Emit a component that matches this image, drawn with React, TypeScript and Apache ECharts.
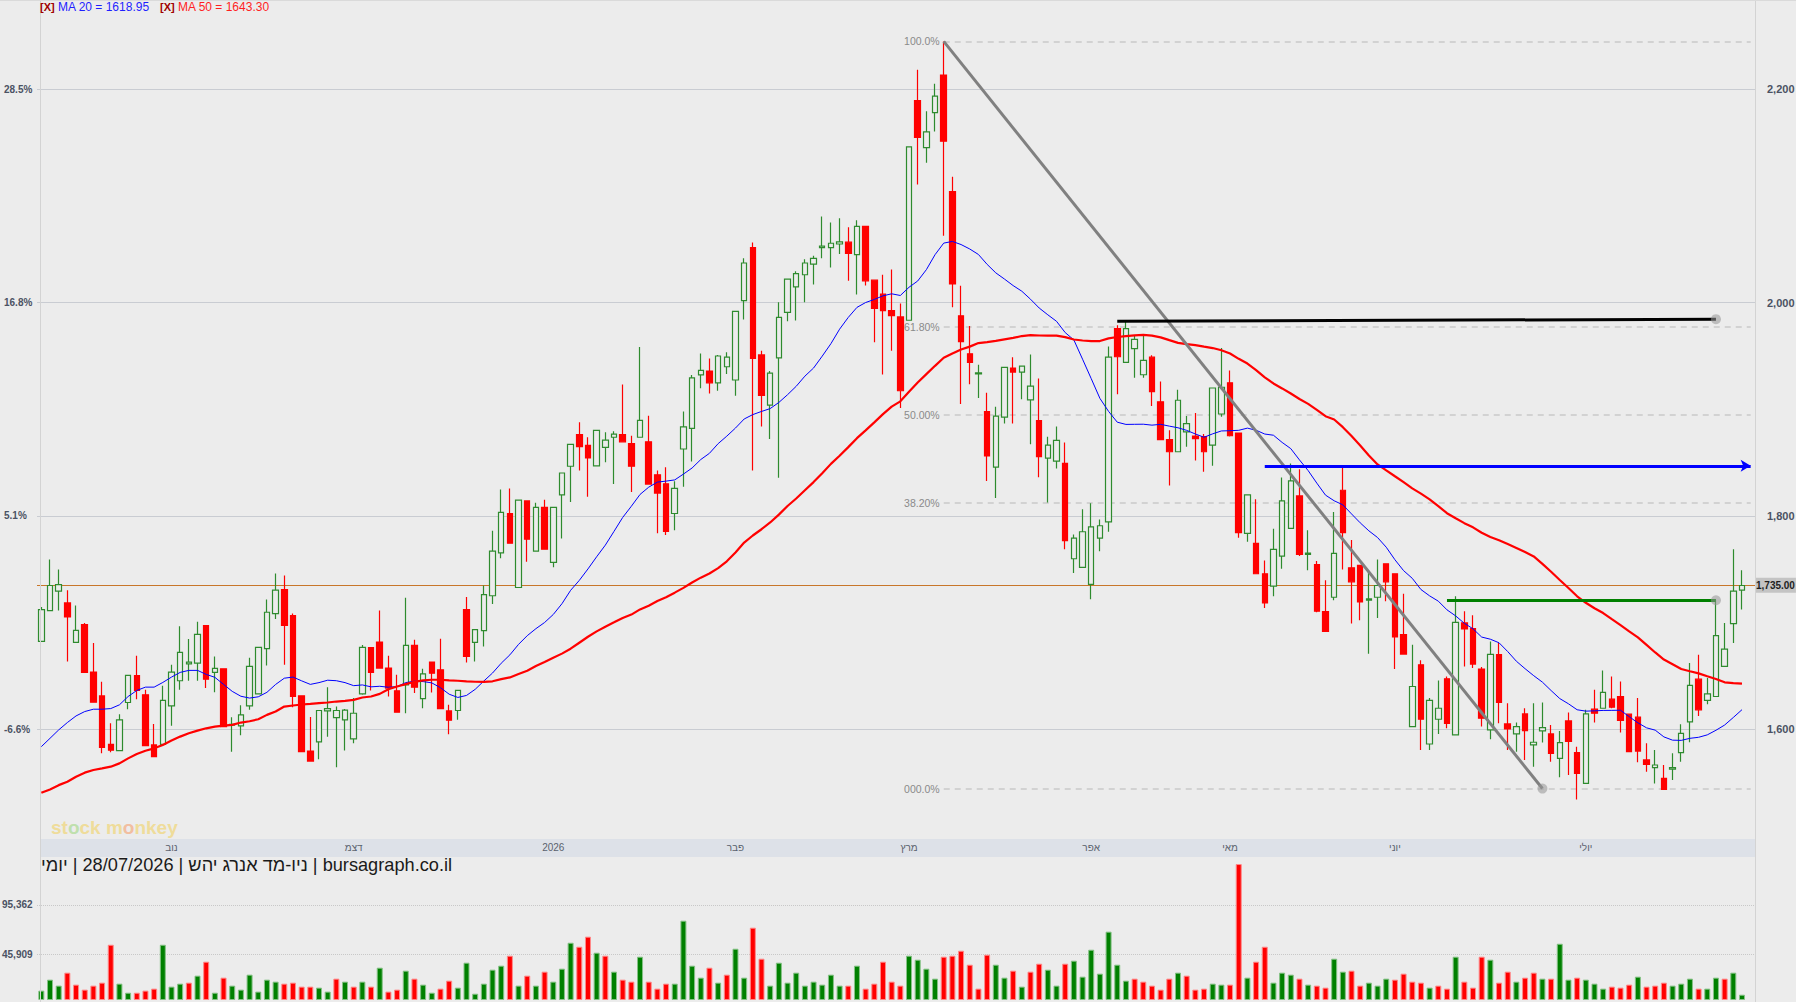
import React, { useEffect, useRef } from "react";
import * as echarts from "echarts";

// ---------- data ----------
const opens = [
  1682.4, 1711.3, 1729.5, 1718.5, 1681.5, 1698.1, 1653.6, 1631.3, 1585.9, 1580.0,
  1625.1, 1650.2, 1632.3, 1585.3, 1585.9, 1622.0, 1645.5, 1661.4, 1662.0, 1697.2,
  1653.3, 1656.7, 1603.8, 1603.1, 1622.0, 1633.2, 1675.6, 1708.5, 1731.0, 1706.6,
  1631.3, 1579.6, 1588.1, 1617.2, 1611.0, 1608.8, 1590.9, 1633.2, 1676.5, 1681.8,
  1657.4, 1636.0, 1641.7, 1678.7, 1628.8, 1663.0, 1655.8, 1617.2, 1617.6, 1712.2,
  1681.5, 1692.5, 1725.2, 1765.4, 1802.3, 1732.9, 1814.1, 1767.1, 1808.1, 1756.4,
  1819.8, 1846.6, 1876.2, 1866.1, 1847.0, 1864.4, 1873.8, 1876.2, 1867.8, 1873.8,
  1869.5, 1838.6, 1830.2, 1802.3, 1862.8, 1882.2, 1932.2, 1935.9, 1924.8, 1939.9,
  1927.5, 2002.0, 2051.7, 1951.0, 1904.0, 1948.3, 1990.9, 2014.8, 2026.2, 2036.2,
  2051.7, 2051.7, 2055.0, 2056.7, 2045.0, 2071.5, 2021.1, 2008.0, 1992.6, 1986.6,
  1983.5, 2189.4, 2145.4, 2178.2, 2213.4, 2104.2, 1987.7, 1952.1, 1933.1, 1897.9,
  1845.8, 1892.6, 1938.7, 1934.9, 1908.8, 1889.4, 1854.2, 1851.4, 1849.3, 1759.9,
  1751.8, 1735.9, 1779.2, 1794.4, 1975.7, 1944.0, 1957.0, 1932.4, 1948.9, 1907.0,
  1871.5, 1860.2, 1878.9, 1875.0, 1874.3, 1866.5, 1895.6, 1924.8, 1877.7, 1783.7,
  1774.3, 1745.8, 1734.2, 1762.4, 1788.4, 1818.8, 1764.0, 1754.5, 1710.3, 1723.8,
  1824.1, 1751.4, 1753.6, 1721.0, 1723.8, 1755.2, 1745.8, 1688.7, 1602.5, 1660.5,
  1586.2, 1609.4, 1647.3, 1594.7, 1699.7, 1694.4, 1656.4, 1599.4, 1669.9, 1605.0,
  1595.6, 1614.4, 1585.3, 1598.4, 1595.6, 1572.7, 1607.8, 1578.1, 1549.2, 1618.8,
  1619.7, 1628.2, 1630.7, 1614.1, 1611.3, 1571.2, 1564.0, 1553.9, 1562.7, 1578.1,
  1606.9, 1647.0, 1627.0, 1630.7, 1658.9, 1699.1, 1730.4,
];

const closes = [
  1712.2, 1734.8, 1735.7, 1705.3, 1692.8, 1653.3, 1625.4, 1583.1, 1580.3, 1608.8,
  1650.5, 1636.4, 1584.6, 1574.3, 1627.0, 1653.6, 1672.1, 1663.0, 1689.0, 1647.0,
  1657.0, 1602.5, 1604.7, 1613.5, 1659.0, 1676.8, 1709.7, 1730.4, 1697.5, 1630.7,
  1579.0, 1570.2, 1617.6, 1619.4, 1617.6, 1618.0, 1615.0, 1676.8, 1653.3, 1657.4,
  1638.6, 1616.0, 1678.7, 1639.5, 1652.0, 1652.5, 1619.4, 1608.5, 1636.4, 1668.3,
  1693.4, 1726.3, 1767.1, 1803.4, 1774.5, 1814.8, 1778.2, 1808.1, 1768.8, 1808.1,
  1840.3, 1867.1, 1865.1, 1854.4, 1880.2, 1871.1, 1876.8, 1869.5, 1846.6, 1889.6,
  1829.9, 1821.5, 1785.6, 1825.8, 1883.6, 1929.5, 1936.6, 1924.8, 1950.0, 1949.0,
  1991.9, 2037.2, 1947.7, 1913.1, 1933.9, 1986.2, 2022.1, 2027.2, 2037.2, 2041.6,
  2053.0, 2055.7, 2057.0, 2046.3, 2071.5, 2020.5, 1994.6, 1992.6, 1987.9, 1917.4,
  2146.1, 2154.9, 2160.2, 2193.7, 2151.4, 2017.6, 1963.4, 1944.0, 1934.2, 1856.3,
  1893.7, 1939.4, 1934.9, 1940.5, 1921.8, 1855.6, 1866.5, 1870.8, 1776.8, 1779.2,
  1785.2, 1789.8, 1790.8, 1948.9, 1949.3, 1975.7, 1965.5, 1945.8, 1916.5, 1871.5,
  1860.2, 1908.5, 1886.6, 1872.5, 1860.2, 1920.0, 1920.7, 1875.2, 1784.3, 1819.7,
  1745.8, 1718.5, 1768.7, 1814.1, 1832.9, 1764.0, 1765.2, 1710.7, 1691.8, 1764.9,
  1784.3, 1738.2, 1719.4, 1722.3, 1734.8, 1738.2, 1686.5, 1670.5, 1640.1, 1609.4,
  1627.0, 1619.7, 1605.6, 1700.3, 1694.0, 1661.1, 1610.3, 1670.2, 1625.1, 1600.3,
  1602.5, 1598.7, 1587.8, 1601.6, 1577.4, 1587.5, 1588.5, 1558.6, 1614.5, 1615.0,
  1634.5, 1620.7, 1608.2, 1579.0, 1579.5, 1567.1, 1566.5, 1543.6, 1564.0, 1596.2,
  1641.1, 1618.2, 1633.2, 1687.8, 1675.2, 1729.5, 1734.8,
];

const lows = [
  1682.4, 1711.3, 1711.3, 1663.6, 1681.5, 1653.3, 1625.4, 1577.4, 1578.4, 1580.0,
  1618.8, 1628.2, 1584.6, 1574.3, 1585.9, 1603.4, 1637.0, 1645.5, 1645.5, 1638.6,
  1634.8, 1602.5, 1579.0, 1594.4, 1618.2, 1633.2, 1659.9, 1703.4, 1660.5, 1620.7,
  1579.0, 1569.6, 1571.8, 1593.0, 1564.3, 1580.0, 1586.8, 1632.3, 1636.4, 1657.4,
  1630.7, 1616.0, 1615.0, 1633.9, 1619.7, 1634.5, 1619.4, 1595.3, 1608.8, 1662.7,
  1663.6, 1677.7, 1717.4, 1760.4, 1774.5, 1732.9, 1757.0, 1767.1, 1768.8, 1752.0,
  1778.9, 1813.1, 1842.6, 1818.1, 1847.0, 1850.3, 1829.9, 1869.5, 1822.5, 1873.8,
  1829.9, 1783.9, 1782.2, 1786.6, 1827.5, 1851.0, 1919.8, 1914.8, 1917.4, 1933.2,
  1912.8, 1984.2, 1842.6, 1883.9, 1872.1, 1835.9, 1982.6, 1983.2, 2000.3, 2017.1,
  2041.6, 2032.9, 2045.6, 2020.5, 2007.7, 2016.1, 1962.8, 1932.6, 1955.0, 1901.3,
  1983.5, 2110.9, 2131.3, 2160.6, 2062.7, 1995.8, 1904.9, 1923.6, 1910.6, 1832.7,
  1816.9, 1886.6, 1886.6, 1909.5, 1867.3, 1836.3, 1812.7, 1844.4, 1768.7, 1746.5,
  1751.8, 1721.8, 1766.9, 1785.2, 1914.1, 1944.0, 1929.6, 1929.6, 1903.2, 1871.5,
  1828.5, 1860.2, 1864.8, 1852.1, 1841.5, 1847.2, 1893.0, 1874.6, 1779.6, 1775.9,
  1745.8, 1713.8, 1724.8, 1750.5, 1788.4, 1762.4, 1749.2, 1709.7, 1691.8, 1721.0,
  1749.8, 1699.1, 1702.2, 1670.8, 1704.4, 1720.1, 1656.4, 1670.5, 1602.5, 1580.6,
  1580.6, 1595.6, 1600.9, 1594.7, 1658.9, 1657.4, 1602.5, 1590.6, 1605.6, 1580.6,
  1579.0, 1571.2, 1564.9, 1587.5, 1569.6, 1554.9, 1557.1, 1534.2, 1549.2, 1606.3,
  1619.7, 1619.7, 1596.9, 1579.0, 1569.0, 1560.2, 1549.2, 1543.6, 1552.4, 1569.6,
  1587.8, 1612.5, 1623.5, 1630.7, 1658.9, 1680.9, 1712.2,
];

const highs = [
  1714.7, 1759.2, 1749.8, 1730.4, 1716.0, 1699.7, 1680.9, 1644.5, 1605.6, 1614.1,
  1650.5, 1669.0, 1637.0, 1605.0, 1640.8, 1660.5, 1696.5, 1684.6, 1700.9, 1697.2,
  1668.3, 1656.7, 1611.3, 1622.6, 1667.1, 1676.8, 1721.6, 1746.1, 1744.2, 1708.5,
  1631.3, 1611.6, 1617.6, 1639.5, 1621.3, 1619.0, 1629.2, 1679.0, 1676.5, 1711.3,
  1669.0, 1651.0, 1723.2, 1684.0, 1656.7, 1663.0, 1684.9, 1622.9, 1636.4, 1724.1,
  1693.4, 1734.8, 1786.2, 1824.8, 1825.8, 1814.8, 1814.1, 1812.4, 1815.1, 1808.1,
  1840.3, 1867.1, 1887.9, 1873.8, 1880.2, 1878.5, 1879.5, 1923.2, 1875.2, 1958.4,
  1894.0, 1842.6, 1845.6, 1832.6, 1898.0, 1932.2, 1952.3, 1947.7, 1951.0, 1953.4,
  1991.9, 2041.6, 2056.4, 1955.0, 1935.9, 2000.3, 2022.1, 2029.5, 2040.6, 2044.0,
  2080.9, 2075.2, 2079.2, 2070.8, 2077.2, 2071.5, 2021.1, 2026.2, 2031.2, 1999.3,
  2146.1, 2218.3, 2179.6, 2205.3, 2245.0, 2118.0, 2015.8, 1978.2, 1941.9, 1915.5,
  1902.5, 1939.4, 1948.9, 1940.5, 1951.4, 1928.9, 1874.3, 1883.8, 1869.0, 1782.7,
  1806.3, 1812.0, 1796.8, 1958.8, 1978.9, 1982.4, 1969.4, 1969.4, 1950.7, 1926.1,
  1880.3, 1918.3, 1893.7, 1896.5, 1876.8, 1920.0, 1957.4, 1936.4, 1877.7, 1819.7,
  1815.7, 1758.3, 1788.1, 1836.0, 1849.2, 1843.9, 1786.5, 1757.7, 1739.8, 1803.8,
  1847.0, 1777.4, 1753.6, 1749.2, 1759.2, 1755.2, 1745.8, 1727.0, 1679.3, 1664.6,
  1629.2, 1645.8, 1649.5, 1724.8, 1710.7, 1706.9, 1658.3, 1682.4, 1680.9, 1624.5,
  1606.3, 1619.7, 1624.5, 1625.1, 1604.1, 1598.4, 1615.7, 1583.7, 1618.2, 1637.0,
  1655.2, 1649.5, 1644.8, 1614.1, 1629.2, 1586.8, 1580.6, 1566.5, 1577.4, 1604.7,
  1662.1, 1669.9, 1648.0, 1721.0, 1699.7, 1768.7, 1749.2,
];

const volumes = [
  9400, 20400, 14400, 27400, 15400, 10400, 14400, 17400, 55400, 16400,
  7300, 7300, 9400, 11400, 55400, 13400, 16400, 17400, 24400, 38400,
  7300, 22400, 14400, 10400, 25400, 8400, 20400, 18400, 16400, 17400,
  13400, 13400, 12400, 8400, 21400, 18400, 13400, 18400, 13400, 32400,
  8400, 10400, 29400, 21400, 15400, 7300, 11400, 19400, 12400, 37400,
  6300, 16400, 30400, 34400, 44400, 14400, 24400, 14400, 28400, 18400,
  31400, 57400, 53400, 63500, 47400, 44400, 28400, 20400, 18400, 43400,
  18400, 11400, 16400, 16400, 79500, 34400, 22400, 32400, 17400, 25400,
  51400, 22400, 72500, 41400, 14400, 37400, 17400, 27400, 14400, 18400,
  15400, 25400, 14400, 14400, 34400, 11400, 16400, 38400, 18400, 14400,
  44400, 40400, 31400, 21400, 43400, 44400, 49400, 35400, 11400, 45400,
  35400, 22400, 29400, 13400, 28400, 36400, 30400, 14400, 36400, 39400,
  23400, 50400, 26400, 68500, 35400, 19400, 21400, 18400, 14400, 10400,
  21400, 27400, 24400, 10400, 11400, 16400, 15400, 15400, 136300, 22400,
  38400, 53400, 17400, 27400, 25400, 21400, 15400, 14400, 12400, 41400,
  28400, 29400, 14400, 17400, 14400, 21400, 20400, 26400, 18400, 17400,
  12400, 14400, 11400, 43400, 18400, 12400, 43400, 40400, 17400, 28400,
  18400, 22400, 27400, 21400, 21400, 56400, 20400, 22400, 20400, 16400,
  11400, 13400, 12400, 15400, 23400, 13400, 14400, 17400, 14400, 16400,
  21400, 11400, 11400, 22400, 21400, 27400, 5300,
];

// moving-average values before enough visible history exists
const ma20Head = [
  1583.7, 1591.5, 1599.4, 1606.3, 1612.5, 1616.6, 1618.8, 1618.8, 1619.4, 1622.9,
  1630.7, 1636.4, 1639.5, 1639.5, 1643.9, 1648.9, 1653.3, 1655.2, 1655.2,
];
const ma50Head = [
  1540.4, 1543.6, 1547.6, 1550.8, 1555.5, 1559.3, 1561.8, 1563.3, 1564.9, 1568.0,
  1572.7, 1576.8, 1579.9, 1582.1, 1585.3, 1589.4, 1593.1, 1596.2, 1598.7, 1600.9,
  1602.5, 1603.4, 1604.1, 1606.3, 1607.5, 1609.4, 1613.5, 1616.6, 1621.3, 1622.3,
  1623.2, 1623.8, 1624.5, 1625.1, 1626.0, 1626.6, 1627.6, 1629.8, 1630.7, 1633.2,
  1637.6, 1640.1, 1642.3, 1644.5, 1645.8, 1646.4, 1646.4, 1645.8, 1645.5,
];

// axis ticks
const monthTickIndex = [15, 36, 59, 80, 100, 121, 137, 156, 178];
const monthLabels = ["נוב", "דצמ", "2026", "פבר", "מרץ", "אפר", "מאי", "יוני", "יולי"];
const priceTicks = [1600, 1800, 2000, 2200];
const priceTickLabels = ["1,600", "1,800", "2,000", "2,200"];
const pctTickLabels = ["-6.6%", "5.1%", "16.8%", "28.5%"];
const volumeTicks = [95362, 45909];
const volumeTickLabels = ["95,362", "45,909"];

// annotations
const lastPrice = 1735;
const lastPriceLabel = "1,735.00";
const fibHigh = 2245.0;
const fibLow = 1544.4;
const fibRatios = [1, 0.618, 0.5, 0.382, 0];
const fibLabels = ["100.0%", "61.80%", "50.00%", "38.20%", "000.0%"];
const fibStart = 104;
const trendFrom = [104, 2245.0];
const trendTo = [173, 1544.4];
const blackFrom = [124, 1982.5];
const blackTo = [193, 1984.5];
const greenFrom = [162, 1721.0];
const greenTo = [193, 1721.0];
const blueFrom = [141, 1847.0];
const blueTo = [197, 1847.0];

const legendMA20 = "MA 20 = 1618.95";
const legendMA50 = "MA 50 = 1643.30";
const titleText = "bursagraph.co.il | ניו-מד אנרג יהש | 28/07/2026 | יומי";

// ---------- helpers ----------
const FONT = '"Liberation Sans", Arial, sans-serif';
const BG = "#ececec";

function movingAverage(head: number[], period: number) {
  return closes.map((_, i) => {
    if (i < period - 1) return head[i];
    let s = 0;
    for (let k = i - period + 1; k <= i; k++) s += closes[k];
    return +(s / period).toFixed(2);
  });
}

function buildOption() {
  const categories = Array.from({ length: closes.length + 1 }, (_, i) => String(i));
  const monthMap: Record<number, string> = {};
  monthTickIndex.forEach((idx, k) => (monthMap[idx] = monthLabels[k]));

  const candleData = opens.map((o, i) => [o, closes[i], lows[i], highs[i]]);
  const ma20 = movingAverage(ma20Head, 20);
  const ma50 = movingAverage(ma50Head, 50);

  const volData = volumes.map((v, i) => {
    const up = i === 0 || closes[i] >= closes[i - 1];
    return {
      value: v,
      itemStyle: {
        color: up ? "#008000" : "#ff0000",
        borderColor: up ? "#86c286" : "#ff8a8a",
        borderWidth: 1,
      },
    };
  });

  const axisLabelColor = "#4b5263";

  const priceGrid = priceTicks.map((p, k) => ({
    yAxis: p,
    lineStyle: { color: "#c9ccd2", width: 1.2, type: "solid" },
    label: {
      show: true,
      position: "end",
      distance: 12,
      formatter: priceTickLabels[k],
      color: axisLabelColor,
      fontSize: 11,
      fontWeight: "bold",
      fontFamily: FONT,
    },
  }));

  const fibLines = fibRatios.map((r, k) => {
    const level = fibLow + r * (fibHigh - fibLow);
    return [
      {
        coord: [fibStart, level],
        lineStyle: { color: "#c9c9c9", width: 1.5, type: [6, 5] },
        label: {
          show: true,
          position: "start",
          distance: 4,
          formatter: fibLabels[k],
          color: "#8a8a8a",
          fontSize: 10.5,
          fontFamily: FONT,
        },
      },
      { coord: [closes.length, level] },
    ];
  });

  const lastLine = {
    yAxis: lastPrice,
    lineStyle: { color: "#c8762a", width: 1, type: "solid" },
    label: {
      show: true,
      position: "end",
      distance: 0,
      formatter: lastPriceLabel,
      backgroundColor: "#c4c4c4",
      color: "#1e1e1e",
      fontWeight: "bold",
      fontSize: 10,
      fontFamily: FONT,
      padding: [3, 1, 2, 1],
    },
  };

  const pctLabels = priceTicks.map((p, k) => ({
    yAxis: p,
    lineStyle: { color: "rgba(0,0,0,0)", width: 0 },
    label: {
      show: true,
      position: "start",
      distance: 33,
      align: "left",
      formatter: pctTickLabels[k],
      color: axisLabelColor,
      fontSize: 10,
      fontWeight: "bold",
      fontFamily: FONT,
    },
  }));

  const volGrid = volumeTicks.map((v, k) => ({
    yAxis: v,
    lineStyle: { color: "#c8c8c8", width: 1, type: "dotted" },
    label: {
      show: true,
      position: "start",
      distance: 35,
      align: "left",
      formatter: volumeTickLabels[k],
      color: axisLabelColor,
      fontSize: 10,
      fontWeight: "bold",
      fontFamily: FONT,
    },
  }));

  const trendLines = [
    [{ coord: trendFrom, lineStyle: { color: "#808080", width: 3, type: "solid" } }, { coord: trendTo }],
    [{ coord: blackFrom, lineStyle: { color: "#000000", width: 3, type: "solid" } }, { coord: blackTo }],
    [{ coord: greenFrom, lineStyle: { color: "#008000", width: 3, type: "solid" } }, { coord: greenTo }],
    [
      { coord: blueFrom, lineStyle: { color: "#0000ff", width: 3, type: "solid" } },
      { coord: blueTo, symbol: "arrow", symbolSize: [9, 10], itemStyle: { color: "#0000ff" } },
    ],
  ];

  return {
    animation: false,
    backgroundColor: BG,
    textStyle: { fontFamily: FONT },
    grid: [
      { left: 37, top: 0, width: 1718, height: 839 },
      { left: 37, top: 860, width: 1718, height: 140 },
    ],
    xAxis: [
      {
        type: "category",
        gridIndex: 0,
        data: categories,
        boundaryGap: true,
        axisLine: { show: false },
        axisTick: { show: false },
        splitLine: { show: false },
        axisLabel: {
          interval: 0,
          margin: 3,
          fontSize: 10,
          color: "#5a616d",
          fontFamily: FONT,
          formatter: (_v: string, idx: number) => monthMap[idx] ?? "",
        },
      },
      {
        type: "category",
        gridIndex: 1,
        data: categories,
        boundaryGap: true,
        show: false,
      },
    ],
    yAxis: [
      { type: "value", gridIndex: 0, min: 1497.1, max: 2283.8, show: false, splitLine: { show: false } },
      { type: "value", gridIndex: 1, min: 0, max: 140350, show: false, splitLine: { show: false } },
    ],
    series: [
      {
        type: "candlestick",
        name: "price",
        xAxisIndex: 0,
        yAxisIndex: 0,
        data: candleData,
        barWidth: 6,
        z: 2,
        itemStyle: {
          color: BG,
          color0: "#ff0000",
          borderColor: "#2e8b2e",
          borderColor0: "#ff0000",
          borderWidth: 1.2,
        },
        markLine: {
          silent: true,
          z: 1,
          animation: false,
          symbol: ["none", "none"],
          data: [...priceGrid, ...fibLines, lastLine],
        },
      },
      {
        type: "line",
        name: "MA 20",
        xAxisIndex: 0,
        yAxisIndex: 0,
        data: ma20,
        symbol: "none",
        z: 3,
        lineStyle: { color: "#0000ff", width: 1 },
        markLine: {
          silent: true,
          z: 1,
          animation: false,
          symbol: ["none", "none"],
          data: pctLabels,
        },
      },
      {
        type: "line",
        name: "MA 50",
        xAxisIndex: 0,
        yAxisIndex: 0,
        data: ma50,
        symbol: "none",
        z: 3,
        lineStyle: { color: "#ff0000", width: 2.2 },
        markLine: {
          silent: true,
          z: 6,
          animation: false,
          symbol: ["none", "none"],
          data: trendLines,
        },
        markPoint: {
          silent: true,
          z: 7,
          animation: false,
          symbol: "circle",
          symbolSize: 10,
          itemStyle: { color: "rgba(150,150,150,0.55)" },
          label: { show: false },
          data: [{ coord: trendTo }, { coord: blackTo }, { coord: greenTo }],
        },
      },
      {
        type: "bar",
        name: "volume",
        xAxisIndex: 1,
        yAxisIndex: 1,
        data: volData,
        barWidth: 6,
        z: 2,
        markLine: {
          silent: true,
          z: 1,
          animation: false,
          symbol: ["none", "none"],
          data: volGrid,
        },
      },
    ],
    graphic: {
      elements: [
        {
          type: "rect",
          silent: true,
          z: -10,
          shape: { x: 40, y: 839, width: 1715, height: 18 },
          style: { fill: "#dde1e8" },
        },
        {
          type: "line",
          silent: true,
          z: 20,
          shape: { x1: 40.5, y1: 0, x2: 40.5, y2: 1002 },
          style: { stroke: "#d3d3d3", lineWidth: 1 },
        },
        {
          type: "line",
          silent: true,
          z: 20,
          shape: { x1: 1755.5, y1: 0, x2: 1755.5, y2: 1002 },
          style: { stroke: "#d3d3d3", lineWidth: 1 },
        },
        {
          type: "line",
          silent: true,
          z: 20,
          shape: { x1: 0, y1: 0.5, x2: 1796, y2: 0.5 },
          style: { stroke: "#dadada", lineWidth: 1 },
        },
        {
          type: "text",
          silent: true,
          z: 30,
          x: 40,
          y: 7,
          style: { text: "[X]", fill: "#a00000", font: `bold 11px ${FONT}`, verticalAlign: "middle" },
        },
        {
          type: "text",
          silent: true,
          z: 30,
          x: 58,
          y: 7,
          style: { text: legendMA20, fill: "#1f1fff", font: `12px ${FONT}`, verticalAlign: "middle" },
        },
        {
          type: "text",
          silent: true,
          z: 30,
          x: 160,
          y: 7,
          style: { text: "[X]", fill: "#a00000", font: `bold 11px ${FONT}`, verticalAlign: "middle" },
        },
        {
          type: "text",
          silent: true,
          z: 30,
          x: 178,
          y: 7,
          style: { text: legendMA50, fill: "#ff1f1f", font: `12px ${FONT}`, verticalAlign: "middle" },
        },
        {
          type: "text",
          silent: true,
          z: 30,
          x: 41,
          y: 865,
          style: {
            text: "\u202B" + titleText + "\u202C",
            fill: "#1a1a1a",
            font: `18.2px ${FONT}`,
            verticalAlign: "middle",
          },
        },
        {
          type: "text",
          silent: true,
          z: 1,
          x: 51,
          y: 827,
          style: {
            text: "{y|st}{g|o}{y|ck m}{r|o}{y|nkey}",
            verticalAlign: "middle",
            rich: {
              y: { fill: "#efdc9a", fontSize: 19, fontWeight: "bold", fontFamily: FONT },
              g: { fill: "#bfe0ad", fontSize: 19, fontWeight: "bold", fontFamily: FONT },
              r: { fill: "#f2bea0", fontSize: 19, fontWeight: "bold", fontFamily: FONT },
            },
          },
        },
      ],
    },
  };
}

export default function App() {
  const ref = useRef<HTMLDivElement>(null);
  useEffect(() => {
    if (!ref.current) return;
    const chart = echarts.init(ref.current, null, { renderer: "svg" });
    chart.setOption(buildOption() as any);
    return () => chart.dispose();
  }, []);
  return (
    <div
      ref={ref}
      style={{ position: "fixed", left: 0, top: 0, width: 1796, height: 1002, background: BG }}
    />
  );
}
